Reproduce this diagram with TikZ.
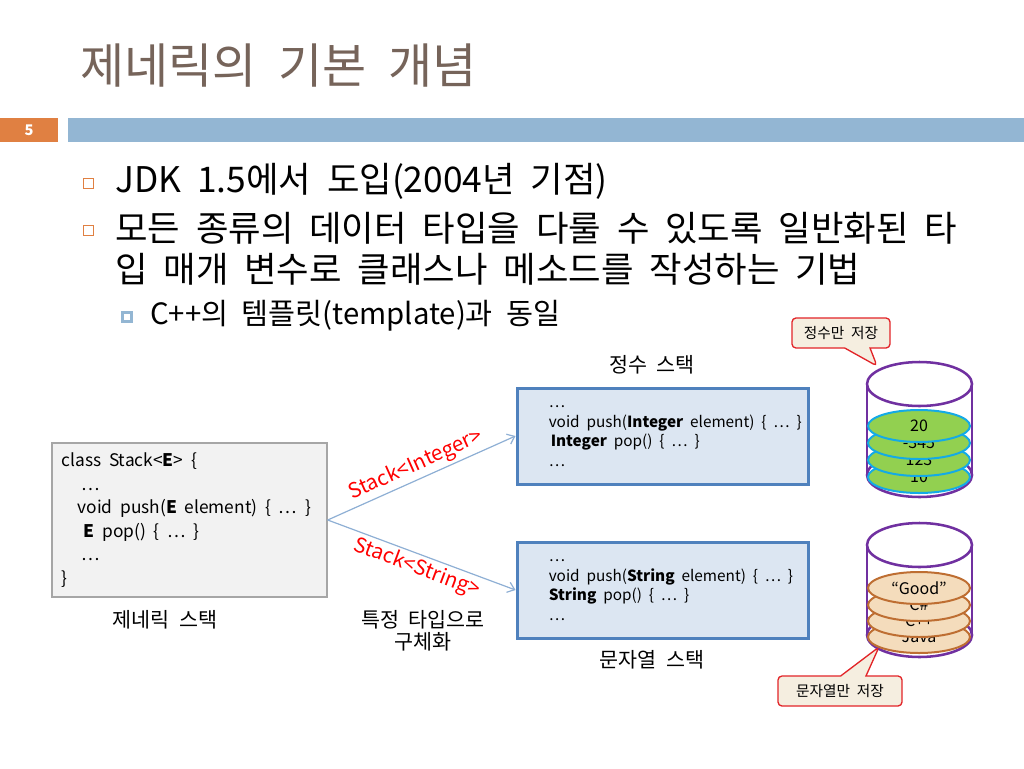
\documentclass[tikz,border=0pt]{standalone}
\usepackage{fontspec}
\setmainfont{Noto Sans CJK KR}[WordSpace=2]
\usetikzlibrary{arrows.meta,shapes.callouts,positioning}
\definecolor{titlebrown}{RGB}{118,100,90}
\definecolor{slideorange}{RGB}{224,128,66}
\definecolor{slideblue}{RGB}{147,182,211}
\definecolor{cylpurple}{RGB}{112,48,160}
\definecolor{diskgreen}{RGB}{146,208,80}
\definecolor{diskcyan}{RGB}{20,170,230}
\definecolor{disktan}{RGB}{244,220,188}
\definecolor{diskbrown}{RGB}{190,110,50}
\definecolor{boxgray}{RGB}{242,242,242}
\definecolor{boxgrayedge}{RGB}{166,166,166}
\definecolor{boxblue}{RGB}{220,230,242}
\definecolor{boxedge}{RGB}{79,129,189}
\definecolor{arrowblue}{RGB}{142,175,212}
\definecolor{notefill}{RGB}{245,238,224}
\definecolor{notered}{RGB}{226,36,40}
\newcommand{\disk}[3]{\filldraw[#1] (919,#2) ellipse [x radius=51, y radius=16]; \node[disktext] at (919,#2) {#3};}
\newcommand{\tank}[2]{\draw[tankline] (919.5,#2) ellipse [x radius=52.5, y radius=22];
  \draw[tankline] (867,#1) -- (867,#2) (972,#1) -- (972,#2);}
\newcommand{\tanktop}[1]{\filldraw[tankline,fill=white] (919.5,#1) ellipse [x radius=52.5, y radius=22];}

\begin{document}
\begin{tikzpicture}[x=0.75pt,y=-0.75pt,
  title/.style={text=titlebrown, font=\fontsize{36}{42}\selectfont, anchor=west, inner sep=0},
  bullettext/.style={font=\fontsize{26.5}{30.75}\selectfont, anchor=west, inner sep=0, align=left},
  subtext/.style={font=\fontsize{22}{26}\selectfont, anchor=west, inner sep=0},
  hollowbox/.style={draw=slideorange, line width=0.6pt, minimum size=7.5pt, inner sep=0},
  subbox/.style={draw=slideblue, fill=white, line width=2pt, minimum size=6.5pt, inner sep=0},
  graybox/.style={fill=boxgray, draw=boxgrayedge, line width=1pt, minimum width=206.25pt, minimum height=115.5pt, inner sep=0},
  bluebox/.style={fill=boxblue, draw=boxedge, line width=2.25pt, minimum width=218.25pt, minimum height=72pt, inner sep=0},
  codetext/.style={font=\fontsize{13}{17.7}\selectfont, anchor=west, align=left, inner sep=0},
  smallcode/.style={font=\fontsize{11.5}{14.8}\selectfont, anchor=west, align=left, inner sep=0},
  caption/.style={font=\fontsize{15.5}{16.5}\selectfont, align=center, inner sep=0},
  link/.style={draw=arrowblue, line width=0.9pt, -{Straight Barb[length=5pt,width=8pt]}},
  arrowlabel/.style={text=red, font=\fontsize{15.5}{17}\selectfont, sloped, inner sep=2pt},
  tankline/.style={draw=cylpurple, line width=1.9pt},
  greendisk/.style={fill=diskgreen, draw=diskcyan, line width=1.5pt},
  tandisk/.style={fill=disktan, draw=diskbrown, line width=1.5pt},
  disktext/.style={font=\fontsize{12}{14}\selectfont, inner sep=0},
  note/.style={rectangle callout, draw=notered, fill=notefill, line width=1pt, rounded corners=3pt,
    minimum height=22.5pt, callout pointer width=19pt, font=\fontsize{11}{12}\selectfont}]
  \useasboundingbox (0,0) rectangle (1024,768);

  % title and header bars
  \node[title] (title) at (80,66) {제네릭의 기본 개념};
  \fill[slideorange] (0,118) rectangle (58,142);
  \fill[slideblue] (68,118) rectangle (1024,142);
  \node[text=white, font=\bfseries\fontsize{11}{12}\selectfont] (num) at (29,130) {5};

  % bullets
  \node[hollowbox] (b1) at (88,183) {};
  \node[bullettext] (jdk) at (115,181) {JDK 1.5에서 도입(2004년 기점)};
  \node[hollowbox] (b2) at (88,230) {};
  \node[bullettext] (generalize) at (115,249) {모든 종류의 데이터 타입을 다룰 수 있도록 일반화된 타\\입 매개 변수로 클래스나 메소드를 작성하는 기법};
  \node[subbox] (b3) at (127,317) {};
  \node[subtext] (cpp) at (150,316) {C++의 템플릿(template)과 동일};

  % generic class
  \node[graybox] (generic) at (189.5,520) {};
  \node[codetext] (genericCode) at ([xshift=7.5pt]generic.west) {class Stack<\textbf{E}> \{\\
    \hspace*{15pt}…\\
    \hspace*{12pt}void push(\textbf{E} element) \{ … \}\\
    \hspace*{16.5pt}\textbf{E} pop() \{ … \}\\
    \hspace*{15pt}…\\
    \}};
  \node[caption] (genericLabel) at (165,620) {제네릭 스택};
  \node[caption] (specialize) at (423,631) {특정 타입으로\\구체화};

  % concrete stacks
  \node[bluebox] (intBox) at (662.5,436) {};
  \node[smallcode] (intCode) at ([xshift=24.75pt]intBox.west) {…\\
    void push(\textbf{Integer} element) \{ … \}\\
    \hspace*{1.5pt}\textbf{Integer} pop() \{ … \}\\
    …};
  \node[caption] (intLabel) at (652,365) {정수 스택};
  \node[bluebox] (strBox) at (662.5,590) {};
  \node[smallcode] (strCode) at ([xshift=24.75pt]strBox.west) {…\\
    void push(\textbf{String} element) \{ … \}\\
    \textbf{String} pop() \{ … \}\\
    …};
  \node[caption] (strLabel) at (652,660) {문자열 스택};

  \draw[link] (generic.east) -- node[arrowlabel, above] {Stack<Integer>} (intBox.west);
  \draw[link] (generic.east) -- node[arrowlabel, below] {Stack<String>} (strBox.west);

  % integer stack
  \tank{384}{475}
  \disk{greendisk}{477}{10}
  \disk{greendisk}{460}{123}
  \disk{greendisk}{443}{-345}
  \disk{greendisk}{426}{20}
  \tanktop{384}

  % string stack
  \tank{545}{635}
  \disk{tandisk}{637}{Java}
  \disk{tandisk}{621}{C++}
  \disk{tandisk}{605}{C\#}
  \disk{tandisk}{588}{“Good”}
  \tanktop{545}

  % callouts
  \node[note, minimum width=73.5pt, callout absolute pointer={(877,366)}] (intNote) at (841,333) {정수만 저장};
  \node[note, minimum width=93pt, callout absolute pointer={(879,647)}] (strNote) at (840,691) {문자열만 저장};
\end{tikzpicture}
\end{document}
